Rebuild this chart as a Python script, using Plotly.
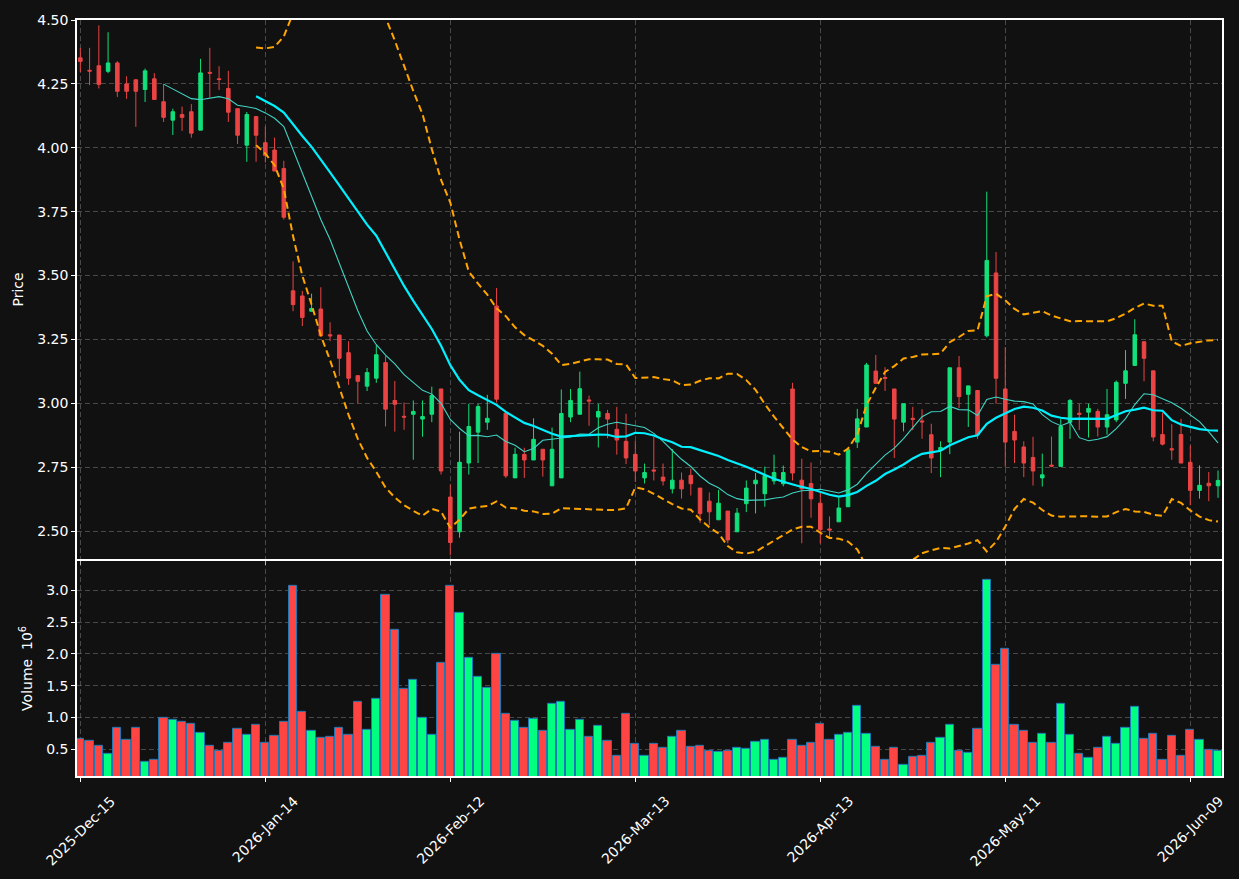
import pandas as pd
import plotly.graph_objects as go
from plotly.subplots import make_subplots

# ---- data ----
holidays = ["2025-12-25", "2026-01-01", "2026-01-19", "2026-02-16", "2026-04-03", "2026-05-25"]
dates = [d for d in pd.bdate_range("2025-12-15", "2026-06-12") if d.strftime("%Y-%m-%d") not in holidays]

opens = [4.352, 4.303, 4.321, 4.299, 4.332, 4.250, 4.266, 4.228, 4.270, 4.180,
         4.108, 4.130, 4.141, 4.069, 4.295, 4.270, 4.232, 4.153, 4.010, 4.122,
         4.020, 3.991, 3.919, 3.440, 3.420, 3.360, 3.369, 3.268, 3.267, 3.198,
         3.108, 3.067, 3.098, 3.159, 3.011, 2.949, 2.957, 2.938, 2.957, 3.056,
         2.633, 2.497, 2.766, 2.887, 2.926, 3.381, 2.961, 2.708, 2.800, 2.778,
         2.820, 2.677, 2.708, 2.946, 2.957, 3.013, 2.946, 2.960, 2.898, 2.851,
         2.800, 2.708, 2.739, 2.711, 2.665, 2.699, 2.718, 2.668, 2.617, 2.544,
         2.578, 2.497, 2.607, 2.685, 2.646, 2.696, 2.685, 3.056, 2.699, 2.686,
         2.609, 2.508, 2.536, 2.595, 2.848, 2.907, 3.126, 3.101, 3.056, 2.926,
         2.941, 2.931, 2.877, 2.817, 2.848, 3.139, 3.035, 3.050, 3.264, 3.510,
         3.056, 2.890, 2.829, 2.788, 2.708, 2.758, 2.753, 2.926, 2.961, 2.965,
         2.968, 2.907, 2.935, 3.078, 3.148, 3.241, 3.127, 2.878, 2.822, 2.878,
         2.769, 2.659, 2.687, 2.677]
highs = [4.391, 4.391, 4.479, 4.452, 4.339, 4.280, 4.268, 4.310, 4.292, 4.250,
         4.153, 4.161, 4.171, 4.348, 4.391, 4.319, 4.301, 4.153, 4.140, 4.122,
         4.083, 4.040, 3.949, 3.555, 3.440, 3.429, 3.454, 3.317, 3.267, 3.243,
         3.108, 3.138, 3.228, 3.185, 3.087, 3.003, 3.011, 3.011, 3.065, 3.056,
         2.682, 2.889, 2.998, 2.998, 3.033, 3.451, 2.961, 2.826, 2.826, 2.941,
         2.820, 2.905, 3.054, 3.056, 3.124, 3.030, 2.998, 2.974, 2.986, 2.959,
         2.853, 2.764, 2.869, 2.764, 2.821, 2.729, 2.744, 2.668, 2.651, 2.661,
         2.578, 2.590, 2.698, 2.727, 2.752, 2.799, 2.756, 3.080, 2.783, 2.768,
         2.656, 2.557, 2.630, 2.818, 2.978, 3.158, 3.189, 3.141, 3.056, 2.998,
         2.986, 2.977, 2.920, 2.851, 3.139, 3.185, 3.068, 3.050, 3.828, 3.592,
         3.220, 2.955, 2.851, 2.869, 2.803, 2.870, 2.939, 3.017, 2.998, 2.998,
         2.978, 3.056, 3.089, 3.208, 3.329, 3.241, 3.127, 2.963, 2.918, 2.939,
         2.835, 2.757, 2.731, 2.737]
lows = [4.296, 4.245, 4.232, 4.292, 4.199, 4.191, 4.082, 4.179, 4.187, 4.101,
        4.050, 4.066, 4.039, 4.069, 4.196, 4.226, 4.101, 4.015, 3.945, 3.945,
        3.942, 3.909, 3.719, 3.360, 3.302, 3.360, 3.260, 3.243, 3.107, 3.072,
        3.000, 3.048, 3.080, 2.909, 2.889, 2.896, 2.779, 2.869, 2.926, 2.721,
        2.405, 2.474, 2.721, 2.766, 2.896, 3.003, 2.708, 2.708, 2.708, 2.778,
        2.713, 2.677, 2.708, 2.926, 2.957, 2.912, 2.827, 2.863, 2.799, 2.762,
        2.692, 2.686, 2.698, 2.678, 2.647, 2.627, 2.639, 2.532, 2.523, 2.544,
        2.452, 2.497, 2.574, 2.569, 2.595, 2.682, 2.675, 2.698, 2.452, 2.552,
        2.451, 2.474, 2.536, 2.595, 2.825, 2.907, 3.078, 3.048, 2.786, 2.890,
        2.895, 2.861, 2.727, 2.711, 2.801, 2.981, 2.907, 2.861, 3.258, 2.998,
        2.751, 2.766, 2.711, 2.678, 2.674, 2.750, 2.753, 2.861, 2.895, 2.866,
        2.870, 2.877, 2.926, 3.017, 3.148, 3.086, 2.851, 2.835, 2.779, 2.766,
        2.601, 2.627, 2.617, 2.630]
closes = [4.338, 4.300, 4.248, 4.332, 4.221, 4.221, 4.221, 4.301, 4.189, 4.119,
          4.141, 4.119, 4.057, 4.293, 4.292, 4.267, 4.139, 4.049, 4.130, 4.049,
          3.970, 3.909, 3.728, 3.386, 3.336, 3.371, 3.264, 3.264, 3.176, 3.098,
          3.086, 3.120, 3.190, 2.977, 2.996, 2.946, 2.968, 2.948, 3.030, 2.735,
          2.455, 2.769, 2.909, 2.987, 2.941, 3.016, 2.716, 2.800, 2.778, 2.859,
          2.778, 2.820, 2.960, 3.011, 3.057, 3.009, 2.968, 2.938, 2.856, 2.786,
          2.735, 2.729, 2.735, 2.696, 2.699, 2.665, 2.685, 2.568, 2.575, 2.609,
          2.465, 2.570, 2.668, 2.699, 2.717, 2.729, 2.729, 2.727, 2.665, 2.626,
          2.505, 2.504, 2.590, 2.818, 2.939, 3.150, 3.078, 3.097, 2.938, 2.998,
          2.937, 2.927, 2.786, 2.827, 3.139, 3.026, 3.068, 2.877, 3.559, 3.098,
          2.848, 2.856, 2.766, 2.735, 2.720, 2.754, 2.909, 3.011, 2.957, 2.980,
          2.907, 2.955, 3.082, 3.127, 3.268, 3.176, 2.868, 2.840, 2.818, 2.766,
          2.659, 2.679, 2.677, 2.698]
volume_m = [0.672, 0.641, 0.5625, 0.4375, 0.844, 0.656, 0.844, 0.3125, 0.344, 1.0,
            0.969, 0.9375, 0.906, 0.766, 0.5625, 0.484, 0.609, 0.828, 0.734, 0.891,
            0.609, 0.719, 0.9375, 3.0625, 1.094, 0.797, 0.6875, 0.703, 0.844, 0.734,
            1.25, 0.8125, 1.297, 2.922, 2.375, 1.453, 1.594, 1.0, 0.734, 1.859,
            3.0625, 2.64, 1.9375, 1.64, 1.469, 2.0, 1.0625, 0.953, 0.844, 0.984,
            0.797, 1.219, 1.25, 0.8125, 0.969, 0.703, 0.875, 0.641, 0.406, 1.0625,
            0.594, 0.406, 0.594, 0.531, 0.703, 0.797, 0.547, 0.5625, 0.484, 0.469,
            0.484, 0.531, 0.516, 0.625, 0.656, 0.344, 0.375, 0.656, 0.5625, 0.609,
            0.906, 0.656, 0.734, 0.766, 1.1875, 0.75, 0.547, 0.344, 0.531, 0.266,
            0.391, 0.406, 0.609, 0.6875, 0.891, 0.484, 0.453, 0.828, 3.156, 1.828,
            2.078, 0.891, 0.797, 0.609, 0.75, 0.609, 1.219, 0.734, 0.4375, 0.375,
            0.531, 0.703, 0.594, 0.844, 1.172, 0.672, 0.75, 0.344, 0.719, 0.406,
            0.8125, 0.656, 0.5, 0.484]

# ---- derived indicators ----
idx = list(range(len(dates)))
close_s = pd.Series(closes)
ma10 = close_s.rolling(10).mean()
ma20 = close_s.rolling(20).mean()
sd20 = close_s.rolling(20).std()
bb_up = ma20 + 2 * sd20
bb_lo = ma20 - 2 * sd20

tick_idx = idx[::20]
tick_text = [dates[i].strftime("%Y-%b-%d") for i in tick_idx]

UP, DOWN = "#12e07a", "#ea4444"
VUP, VDOWN = "#00ff80", "#ff4444"
vol_colors = [VUP if c >= o else VDOWN for o, c in zip(opens, closes)]

fig = make_subplots(rows=2, cols=1, shared_xaxes=True)

fig.add_trace(go.Candlestick(
    x=idx, open=opens, high=highs, low=lows, close=closes,
    increasing=dict(line=dict(color=UP, width=1), fillcolor=UP),
    decreasing=dict(line=dict(color=DOWN, width=1), fillcolor=DOWN),
    whiskerwidth=0, showlegend=False), row=1, col=1)

fig.add_trace(go.Scatter(x=idx, y=bb_up, mode="lines",
                         line=dict(color="#ffa500", width=2, dash="7px,4px"), showlegend=False), row=1, col=1)
fig.add_trace(go.Scatter(x=idx, y=bb_lo, mode="lines",
                         line=dict(color="#ffa500", width=2, dash="7px,4px"), showlegend=False), row=1, col=1)
fig.add_trace(go.Scatter(x=idx, y=ma10, mode="lines",
                         line=dict(color="#40d4c4", width=1.1), showlegend=False), row=1, col=1)
fig.add_trace(go.Scatter(x=idx, y=ma20, mode="lines",
                         line=dict(color="#00f0ff", width=2.2), showlegend=False), row=1, col=1)

fig.add_trace(go.Bar(x=idx, y=volume_m, width=0.9,
                     marker=dict(color=vol_colors, line=dict(color="#1f77b4", width=1)),
                     showlegend=False), row=2, col=1)

FONT = "DejaVu Sans"
grid = dict(showgrid=True, gridcolor="rgba(120,120,120,0.55)", griddash="5px,3px", gridwidth=1)
axis_common = dict(showline=True, linecolor="white", linewidth=1.5, mirror=True,
                   ticks="outside", ticklen=4, tickcolor="white", zeroline=False,
                   tickfont=dict(color="white", size=14, family=FONT), **grid)

# rotated date labels, centred under each tick (bounding box centred on the tick)
annotations = [dict(x=t, y=0, xref="x2", yref="paper", text=lab, showarrow=False,
                    textangle=-45, xanchor="center", yanchor="top", yshift=-14,
                    font=dict(color="white", size=14, family=FONT))
               for t, lab in zip(tick_idx, tick_text)]

fig.update_layout(
    width=1239, height=879,
    paper_bgcolor="#111111", plot_bgcolor="#111111",
    margin=dict(l=77, r=17, t=17, b=103),
    boxgap=0.45, bargap=0,
    font=dict(family=FONT, color="white", size=14),
    showlegend=False,
    annotations=annotations,
)
fig.update_xaxes(range=[-0.36, 123.43], tickvals=tick_idx, showticklabels=False,
                 rangeslider_visible=False, **axis_common)
fig.update_yaxes(domain=[0.2872, 1.0], range=[2.391, 4.5], tickvals=[2.5, 2.75, 3.0, 3.25, 3.5, 3.75, 4.0, 4.25, 4.5],
                 tickformat=".2f", title=dict(text="Price", font=dict(size=14, color="white"), standoff=10),
                 row=1, col=1, **axis_common)
fig.update_yaxes(domain=[0.0, 0.2846], range=[0.083, 3.46], tickvals=[0.5, 1.0, 1.5, 2.0, 2.5, 3.0],
                 tickformat=".1f", title=dict(text="Volume  10<sup>6</sup>", font=dict(size=14, color="white"), standoff=10),
                 row=2, col=1, **axis_common)

fig.write_html("out.html")
